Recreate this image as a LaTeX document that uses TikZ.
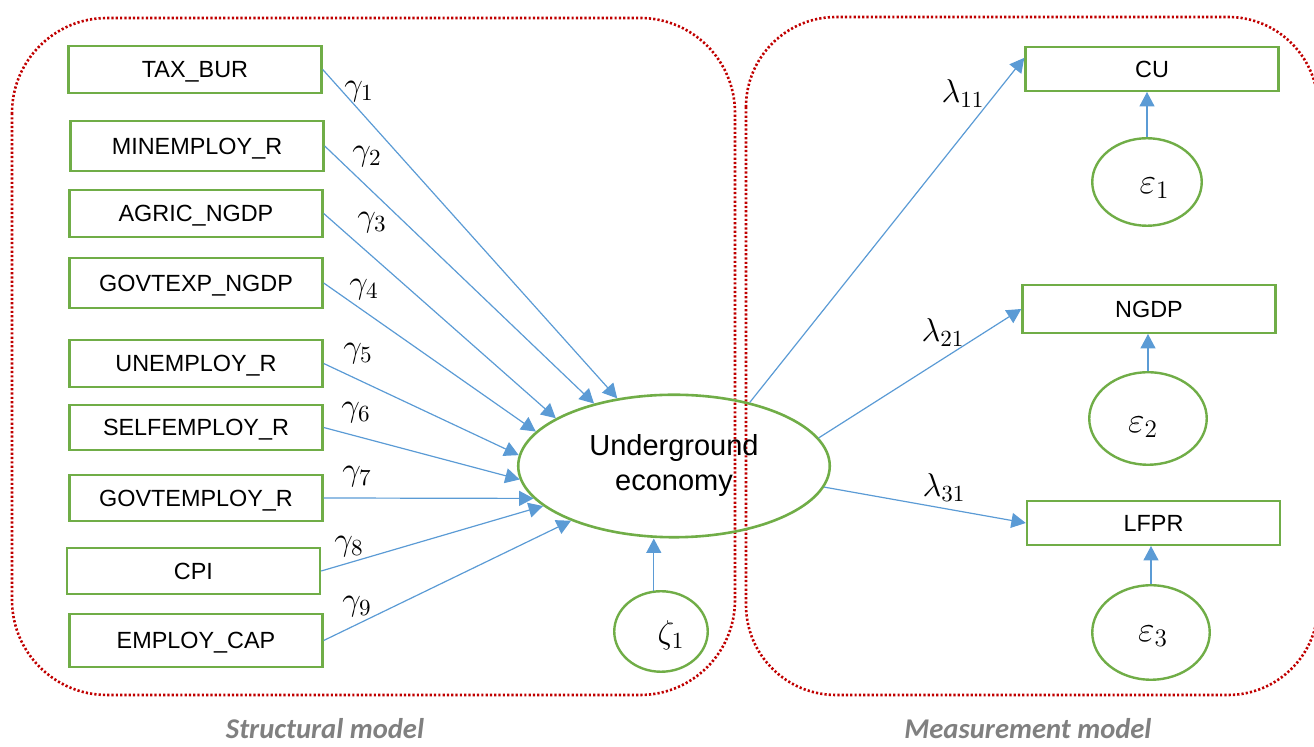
\RequirePackage{fix-cm}
\documentclass[tikz,border=0pt]{standalone}
\usepackage[no-math]{fontspec}
\setmainfont{Liberation Sans}
\newfontfamily\capfont{Carlito}
\usetikzlibrary{shapes.geometric,arrows.meta}
\definecolor{boxgreen}{HTML}{70AD47}
\definecolor{pathblue}{HTML}{5B9BD5}
\definecolor{groupred}{HTML}{C00000}
\definecolor{capgray}{HTML}{808080}

\begin{document}
\begin{tikzpicture}[x=0.5pt,y=-0.5pt,
  var/.style={draw=boxgreen,line width=1.2pt,rectangle,inner sep=0pt,
    minimum width=126.5pt,minimum height=#1,
    font=\fontsize{11.7}{14}\selectfont,text depth=0pt},
  latent/.style={draw=boxgreen,line width=1.3pt,ellipse,inner sep=0pt,
    minimum width=155.75pt,minimum height=71.25pt,align=center,
    font=\fontsize{14.5}{17.5}\selectfont},
  errc/.style args={#1x#2}{draw=boxgreen,line width=1.2pt,ellipse,inner sep=0pt,
    minimum width=#1,minimum height=#2},
  coef/.style={inner sep=0pt,font=\fontsize{16.5}{19}\selectfont},
  errlab/.style={inner sep=0pt,font=\fontsize{18}{21}\selectfont},
  path/.style={draw=pathblue,line width=0.6pt,-{Triangle[length=7.2pt,width=7.5pt]}},
  group/.style={draw=groupred,line width=1.3pt,dash pattern=on 1.1pt off 1.05pt},
  grouplabel/.style={inner sep=0pt,anchor=base,text=capgray,
    font=\capfont\bfseries\itshape\fontsize{14.3}{17}\selectfont}
]
\useasboundingbox (0,0) rectangle (1314,747);

% dotted group frames
\draw[group,rounded corners=47.5pt] (12,18) rectangle (735,695);
\draw[group,rounded corners=45pt] (746,17) rectangle (1318,695);

% observed causes
\node[var=23.3pt] (tax)  at (195,69.5)  {TAX\_BUR};
\node[var=24.8pt] (minr) at (197,146)   {MINEMPLOY\_R};
\node[var=23.3pt] (agr)  at (196,213.5) {AGRIC\_NGDP};
\node[var=24.8pt] (gexp) at (196,283)   {GOVTEXP\_NGDP};
\node[var=23.3pt] (unr)  at (196,363.5) {UNEMPLOY\_R};
\node[var=22.3pt] (self) at (196,427.5) {SELFEMPLOY\_R};
\node[var=22.8pt] (gemp) at (196,498)   {GOVTEMPLOY\_R};
\node[var=22.8pt] (cpi)  at (193.5,571) {CPI};
\node[var=26.3pt] (ecap) at (196,640.5) {EMPLOY\_CAP};

% latent variable and its disturbance
\node[latent] (ue) at (674,466) {Underground\\economy};
\node[errc=46.75pt x 40.25pt] (zeta) at (661,631.5) {};
\node[errlab,font=\fontsize{16.5}{19}\selectfont] (zetalab) at (671,635) {$\zeta_1$};

% indicators
\node[var=21.8pt] (cu)   at (1152,69)    {CU};
\node[var=23.8pt] (ngdp) at (1149,309)   {NGDP};
\node[var=21.8pt] (lfpr) at (1153.5,523) {LFPR};

% measurement errors
\node[errc=54.75pt x 43.75pt] (eps1) at (1147,182)   {};
\node[errc=58.75pt x 46.25pt] (eps2) at (1148,418.5) {};
\node[errc=58.75pt x 47.25pt] (eps3) at (1151,632.5) {};
\node[errlab] (eps1lab) at (1154.5,188) {$\varepsilon_1$};
\node[errlab] (eps2lab) at (1143,427)   {$\varepsilon_2$};
\node[errlab] (eps3lab) at (1153,636.5) {$\varepsilon_3$};

% structural paths
\draw[path] (tax.east)  -- (ue.130.4);
\draw[path] (minr.east) -- (ue.142.4);
\draw[path] (agr.east)  -- (ue.158.7);
\draw[path] (gexp.east) -- (ue.166.5);
\draw[path] (unr.east)  -- (ue.176.3);
\draw[path] (self.east) -- (ue.185);
\draw[path] (gemp.east) -- (ue.193.8);
\draw[path] (cpi.east)  -- (ue.197);
\draw[path] (ecap.east) -- (ue.208);
\draw[path] (zeta.100) -- (zeta.100 |- ue.south);

% structural coefficients
\node[coef] (g1) at (359,92)    {$\gamma_1$};
\node[coef] (g2) at (367,157)   {$\gamma_2$};
\node[coef] (g3) at (372,222.5) {$\gamma_3$};
\node[coef] (g4) at (364,290)   {$\gamma_4$};
\node[coef] (g5) at (358,354)   {$\gamma_5$};
\node[coef] (g6) at (356,413)   {$\gamma_6$};
\node[coef] (g7) at (357,477)   {$\gamma_7$};
\node[coef] (g8) at (349,547)   {$\gamma_8$};
\node[coef] (g9) at (357,607)   {$\gamma_9$};

% loadings
\draw[path] (ue.40)  -- (cu.175);
\draw[path] (ue.11)  -- (ngdp.west);
\draw[path] (ue.-8)  -- (lfpr.west);
\draw[path] (eps1.north) -- (eps1.north |- cu.south);
\draw[path] (eps2.north) -- (eps2.north |- ngdp.south);
\draw[path] (eps3.north) -- (eps3.north |- lfpr.south);

\node[coef] (l11) at (963,94)  {$\lambda_{11}$};
\node[coef] (l21) at (943,333) {$\lambda_{21}$};
\node[coef] (l31) at (944,488) {$\lambda_{31}$};

% frame captions
\node[grouplabel] (capS) at (325,739)  {Structural model};
\node[grouplabel] (capM) at (1028,739) {Measurement model};
\end{tikzpicture}
\end{document}
